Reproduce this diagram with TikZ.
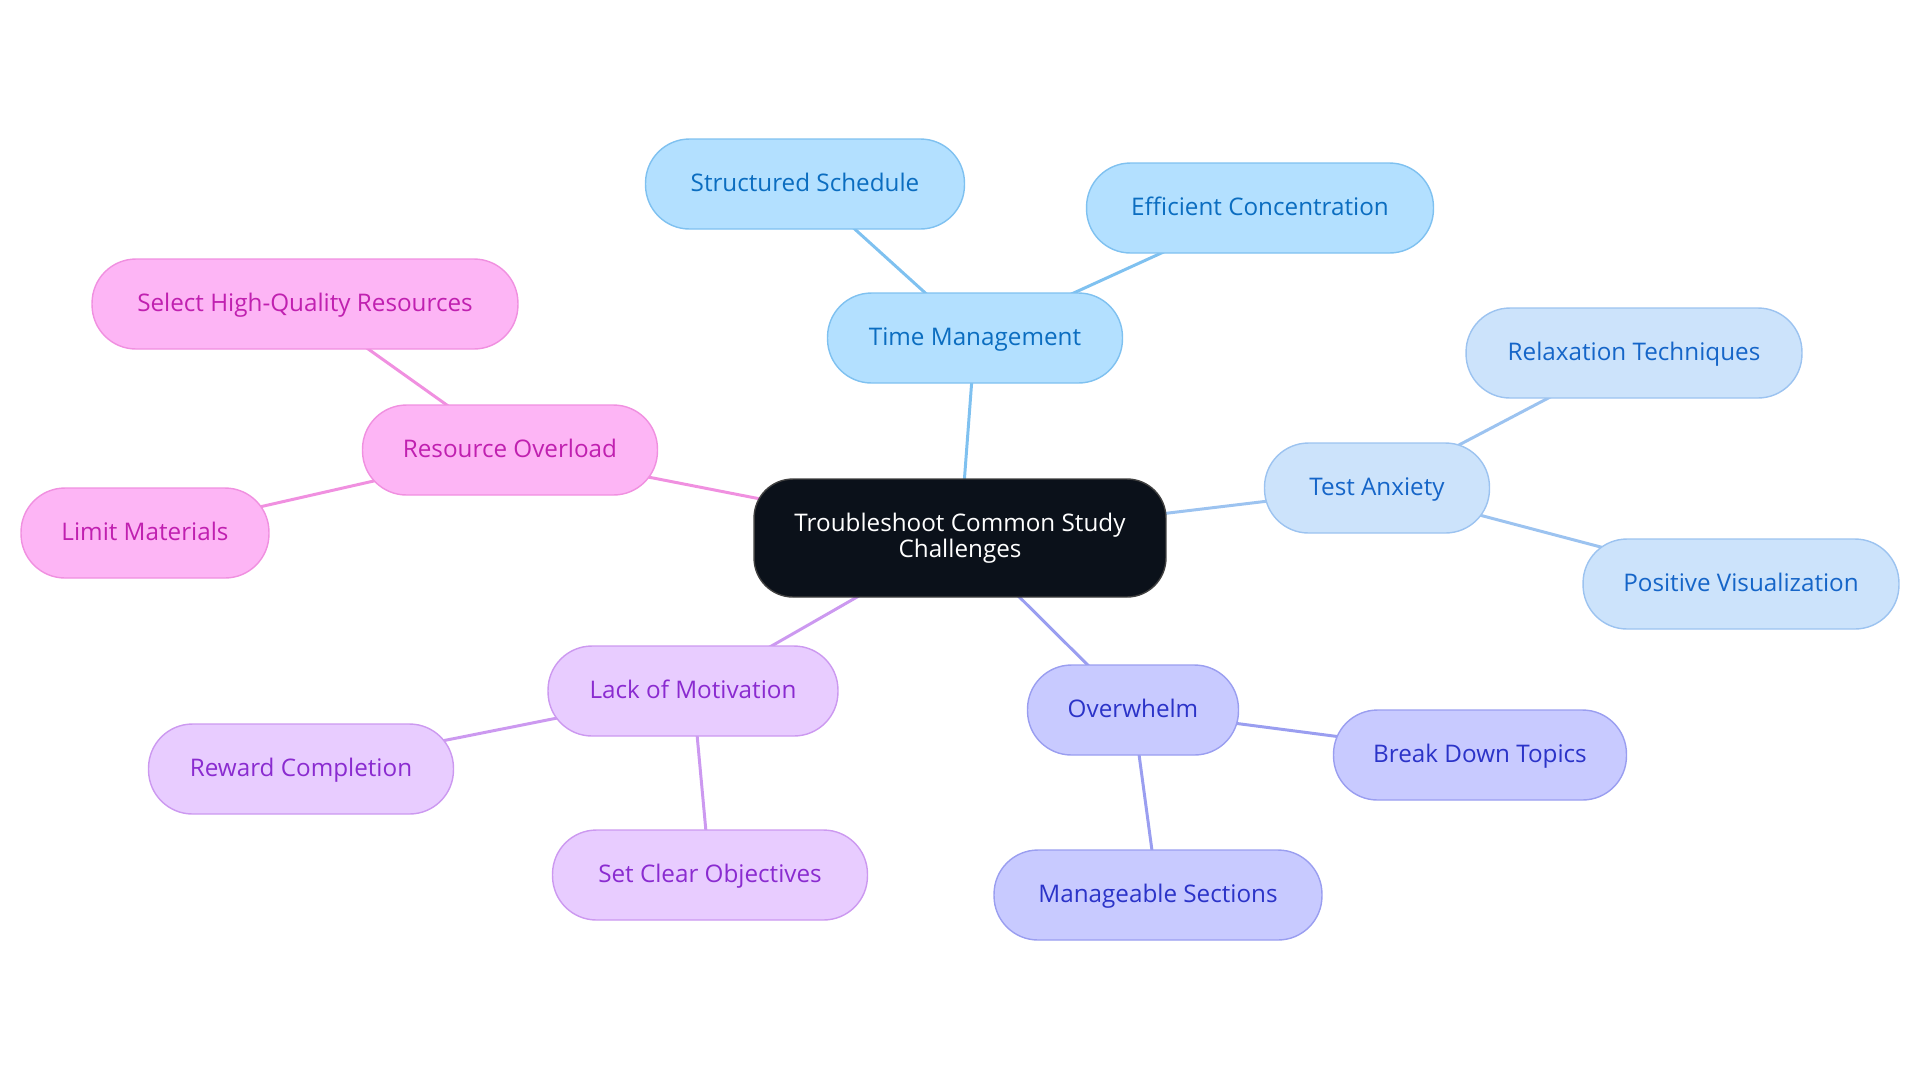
\documentclass[tikz,border=0pt]{standalone}
\usepackage{fontspec}
\setmainfont{Open Sans}
\usetikzlibrary{backgrounds}
\definecolor{centerfill}{HTML}{0B111A}
\definecolor{tmfill}{HTML}{B3E0FF}\definecolor{tmline}{HTML}{7FC1F0}\definecolor{tmtext}{HTML}{0B6DC0}
\definecolor{tafill}{HTML}{CCE3FB}\definecolor{taline}{HTML}{9CC3F0}\definecolor{tatext}{HTML}{1565C8}
\definecolor{owfill}{HTML}{C8CAFF}\definecolor{owline}{HTML}{9A9EF0}\definecolor{owtext}{HTML}{2B33C8}
\definecolor{lmfill}{HTML}{E8CCFF}\definecolor{lmline}{HTML}{CC99F0}\definecolor{lmtext}{HTML}{8A2BD0}
\definecolor{rofill}{HTML}{FDB5F5}\definecolor{roline}{HTML}{F090E0}\definecolor{rotext}{HTML}{C020B0}
\tikzset{
  pill/.style={draw, line width=0.8pt, rounded corners=0.88cm, minimum height=1.8cm, inner xsep=0pt, text height=1.95ex, text depth=0.35ex, align=center, font=\fontsize{13.8}{16}\selectfont},
  tmbox/.style={pill, fill=tmfill, draw=tmline, text=tmtext},
  tabox/.style={pill, fill=tafill, draw=taline, text=tatext},
  owbox/.style={pill, fill=owfill, draw=owline, text=owtext},
  lmbox/.style={pill, fill=lmfill, draw=lmline, text=lmtext},
  robox/.style={pill, fill=rofill, draw=roline, text=rotext},
  link/.style={line width=1.7pt}
}
\begin{document}
\begin{tikzpicture}[x=0.02cm, y=-0.02cm]
\useasboundingbox (0,0) rectangle (1920,1083);
% centre
\node[draw=black!75, fill=centerfill, text=white, line width=0.8pt, rounded corners=0.78cm, minimum width=8.24cm, minimum height=2.36cm, align=center, font=\fontsize{13.8}{14.6}\selectfont] (root) at (960,538) {Troubleshoot Common Study\\Challenges};
% branches
\node[tmbox, minimum width=5.9cm] (time) at (975,338) {Time Management};
\node[tabox, minimum width=4.5cm] (anx) at (1377,488) {Test Anxiety};
\node[owbox, minimum width=4.22cm] (over) at (1133,710) {Overwhelm};
\node[lmbox, minimum width=5.8cm] (motiv) at (693,691) {Lack of Motivation};
\node[robox, minimum width=5.9cm] (res) at (510,450) {Resource Overload};
% leaves
\node[tmbox, minimum width=6.38cm] (sched) at (805,184) {Structured Schedule};
\node[tmbox, minimum width=6.94cm] (conc) at (1260,208) {Efficient Concentration};
\node[tabox, minimum width=6.72cm] (relax) at (1634,353) {Relaxation Techniques};
\node[tabox, minimum width=6.32cm] (visual) at (1741,584) {Positive Visualization};
\node[owbox, minimum width=5.86cm] (topics) at (1480,755) {Break Down Topics};
\node[owbox, minimum width=6.56cm] (sections) at (1158,895) {Manageable Sections};
\node[lmbox, minimum width=6.3cm] (goals) at (710,875) {Set Clear Objectives};
\node[lmbox, minimum width=6.1cm] (reward) at (301,769) {Reward Completion};
\node[robox, minimum width=8.52cm] (quality) at (305,304) {Select High-Quality Resources};
\node[robox, minimum width=4.96cm] (limit) at (145,533) {Limit Materials};
% links, behind the boxes
\begin{scope}[on background layer]
\draw[link, tmline] (root.center) -- (time.center);
\draw[link, tmline] (time.center) -- (sched.center);
\draw[link, tmline] (time.center) -- (conc.center);
\draw[link, taline] (root.center) -- (anx.center);
\draw[link, taline] (anx.center) -- (relax.center);
\draw[link, taline] (anx.center) -- (visual.center);
\draw[link, owline] (root.center) -- (over.center);
\draw[link, owline] (over.center) -- (topics.center);
\draw[link, owline] (over.center) -- (sections.center);
\draw[link, lmline] (root.center) -- (motiv.center);
\draw[link, lmline] (motiv.center) -- (goals.center);
\draw[link, lmline] (motiv.center) -- (reward.center);
\draw[link, roline] (root.center) -- (res.center);
\draw[link, roline] (res.center) -- (quality.center);
\draw[link, roline] (res.center) -- (limit.center);
\end{scope}
\end{tikzpicture}
\end{document}
